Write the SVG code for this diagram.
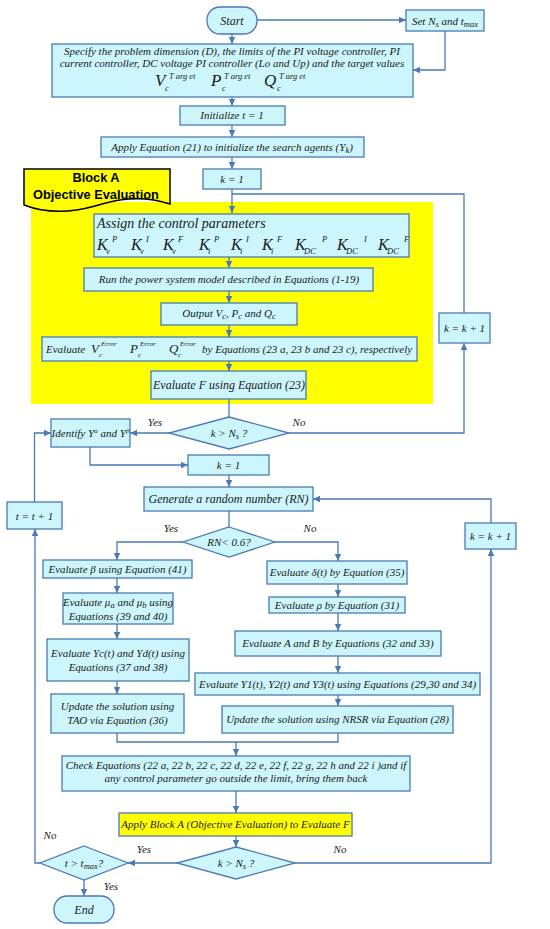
<svg xmlns="http://www.w3.org/2000/svg" width="550" height="929" viewBox="0 0 550 929">
<style>
.box{fill:#ccf6fc;stroke:#4a7ab5;stroke-width:1.3}
.ybox{fill:#ffff00;stroke:#4a7ab5;stroke-width:1.3}
.ln{fill:none;stroke:#4a7ab5;stroke-width:1.3}
.arr{marker-end:url(#ah)}
text{font-family:"Liberation Serif","Times New Roman",serif;font-style:italic;font-size:11px;fill:#1a1a1a}
.c{text-anchor:middle}
.f12{font-size:12px}
.f13{font-size:13px}
.f14{font-size:14px}
.big{font-size:17px}
.k{font-size:16px}
.s{font-size:8.5px}
.xs{font-size:7px}
.ban{font-family:"Liberation Sans",Arial,sans-serif;font-style:normal;font-weight:bold;font-size:12.8px;text-anchor:middle;fill:#000}
</style>
<defs>
<marker id="ah" markerWidth="8" markerHeight="8" refX="7" refY="4" orient="auto" markerUnits="userSpaceOnUse">
<path d="M0,0.8 L7,4 L0,7.2 Z" fill="#4a7ab5"/>
</marker>
</defs>
<rect width="550" height="929" fill="#ffffff"/>

<rect id="blockA-area" x="31" y="202" width="402" height="202" fill="#ffff00"/>

<g id="connectors">
<path class="ln arr" d="M232,34 V44"/>
<path class="ln arr" d="M257,20 H406"/>
<path class="ln arr" d="M445,31 V70 H413"/>
<path class="ln arr" d="M232,97 V106"/>
<path class="ln arr" d="M232,125 V137"/>
<path class="ln arr" d="M232,157 V169"/>
<path class="ln arr" d="M232,189 V213"/>
<path class="ln" d="M464,313 V194 H232"/>
<path class="ln arr" d="M229,257 V268"/>
<path class="ln arr" d="M229,291 V303"/>
<path class="ln arr" d="M229,325 V337"/>
<path class="ln arr" d="M229,361 V371"/>
<path class="ln" d="M229,399 V417"/>
<path class="ln arr" d="M289,433 H464 V343"/>
<path class="ln arr" d="M169,433 H130"/>
<path class="ln arr" d="M90,447 V465 H188"/>
<path class="ln arr" d="M229,475 V487"/>
<path class="ln" d="M229,511 V527"/>
<path class="ln arr" d="M183,542 H117 V560"/>
<path class="ln arr" d="M275,542 H338 V561"/>
<path class="ln arr" d="M117,578 V593"/>
<path class="ln arr" d="M117,624 V639"/>
<path class="ln arr" d="M117,681 V694"/>
<path class="ln arr" d="M338,584 V597"/>
<path class="ln arr" d="M338,613 V631"/>
<path class="ln arr" d="M338,656 V673"/>
<path class="ln arr" d="M338,695 V706"/>
<path class="ln" d="M117,733 V742 H338 V733"/>
<path class="ln arr" d="M236,742 V756"/>
<path class="ln arr" d="M236,791 V813"/>
<path class="ln arr" d="M236,836 V847"/>
<path class="ln arr" d="M177,863 H128"/>
<path class="ln arr" d="M295,863 H491 V549"/>
<path class="ln arr" d="M491,523 V499 H313"/>
<path class="ln arr" d="M40,863 H35 V529"/>
<path class="ln arr" d="M34.5,502 V433 H51"/>
<path class="ln arr" d="M84,880 V896"/>
</g>

<g id="labels">
<text class="c" x="155" y="426">Yes</text>
<text class="c" x="299" y="426">No</text>
<text class="c" x="171" y="532">Yes</text>
<text class="c" x="310" y="532">No</text>
<text class="c" x="144" y="853">Yes</text>
<text class="c" x="340" y="853">No</text>
<text class="c" x="50" y="839">No</text>
<text class="c" x="111" y="890">Yes</text>
</g>

<g id="start">
<rect class="box" x="207" y="7" width="50" height="27" rx="13"/>
<text class="c f12" x="232" y="24.5">Start</text>
</g>

<g id="set-ns">
<rect class="box" x="406" y="10" width="78" height="21"/>
<text class="c" x="445" y="24.5">Set N<tspan class="s" dy="2">s</tspan><tspan dy="-2"> and t</tspan><tspan class="s" dy="2">max</tspan></text>
</g>

<g id="specify">
<rect class="box" x="52" y="44" width="361" height="53"/>
<text class="c" x="232" y="55">Specify the problem dimension (D), the limits of the PI voltage controller, PI</text>
<text class="c" x="232" y="67">current controller, DC voltage PI controller (Lo and Up) and the target values</text>
<text><tspan class="big" x="155" y="86">V</tspan><tspan class="s" x="165" y="91">c</tspan><tspan class="s" x="169" y="79">T arg et</tspan><tspan class="big" x="211" y="86">P</tspan><tspan class="s" x="222" y="91">c</tspan><tspan class="s" x="224" y="79">T arg et</tspan><tspan class="big" x="264" y="86">Q</tspan><tspan class="s" x="277" y="91">c</tspan><tspan class="s" x="279" y="79">T arg et</tspan></text>
</g>

<g id="init-t">
<rect class="box" x="180" y="106" width="105" height="19"/>
<text class="c" x="232" y="119">Initialize t = 1</text>
</g>

<g id="apply-21">
<rect class="box" x="101" y="137" width="263" height="20"/>
<text class="c" x="232" y="150.5">Apply Equation (21) to initialize the search agents (Y<tspan class="s" dy="2">k</tspan><tspan dy="-2">)</tspan></text>
</g>

<g id="k1-a">
<rect class="box" x="203" y="169" width="58" height="20"/>
<text class="c" x="232" y="183">k = 1</text>
</g>

<g id="banner">
<path d="M24,169 H170 V204 C140,194 115,200 95,206 C70,213 45,213 24,205 Z" fill="#ffff00" stroke="#000" stroke-width="1.5"/>
<text class="ban" x="96" y="182">Block A</text>
<text class="ban" x="96" y="199">Objective Evaluation</text>
</g>

<g id="assign">
<rect class="box" x="94" y="214" width="315" height="43"/>
<text class="f14" x="97" y="228">Assign the control parameters</text>
<text><tspan class="k" x="97" y="250">K</tspan><tspan class="s" x="106" y="254">v</tspan><tspan class="s" x="112" y="242">P</tspan><tspan class="k" x="131" y="250">K</tspan><tspan class="s" x="140" y="254">v</tspan><tspan class="s" x="146" y="242">I</tspan><tspan class="k" x="163" y="250">K</tspan><tspan class="s" x="172" y="254">v</tspan><tspan class="s" x="178" y="242">F</tspan><tspan class="k" x="199" y="250">K</tspan><tspan class="s" x="208" y="254">i</tspan><tspan class="s" x="214" y="242">P</tspan><tspan class="k" x="231" y="250">K</tspan><tspan class="s" x="240" y="254">i</tspan><tspan class="s" x="246" y="242">I</tspan><tspan class="k" x="262" y="250">K</tspan><tspan class="s" x="271" y="254">i</tspan><tspan class="s" x="277" y="242">F</tspan><tspan class="k" x="295" y="250">K</tspan><tspan class="s" x="304" y="254">DC</tspan><tspan class="s" x="322" y="242">P</tspan><tspan class="k" x="337" y="250">K</tspan><tspan class="s" x="346" y="254">DC</tspan><tspan class="s" x="364" y="242">I</tspan><tspan class="k" x="378" y="250">K</tspan><tspan class="s" x="387" y="254">DC</tspan><tspan class="s" x="404" y="242">F</tspan></text>
</g>

<g id="run-model">
<rect class="box" x="84" y="268" width="289" height="23"/>
<text class="c" x="229" y="283">Run the power system model described in Equations (1-19)</text>
</g>

<g id="output">
<rect class="box" x="161" y="303" width="136" height="22"/>
<text class="c" x="229" y="317">Output V<tspan class="s" dy="2">c</tspan><tspan dy="-2">, P</tspan><tspan class="s" dy="2">c</tspan><tspan dy="-2"> and Q</tspan><tspan class="s" dy="2">c</tspan></text>
</g>

<g id="eval-error">
<rect class="box" x="42" y="337" width="375" height="24"/>
<text><tspan x="46" y="353">Evaluate</tspan><tspan class="f13" x="91" y="353">V</tspan><tspan class="xs" x="99" y="357">c</tspan><tspan class="xs" x="101" y="346">Error</tspan><tspan class="f13" x="130" y="353">P</tspan><tspan class="xs" x="138" y="357">c</tspan><tspan class="xs" x="140" y="346">Error</tspan><tspan class="f13" x="169" y="353">Q</tspan><tspan class="xs" x="178" y="357">c</tspan><tspan class="xs" x="180" y="346">Error</tspan><tspan x="202" y="353">by Equations (23 a, 23 b and 23 c), respectively</tspan></text>
</g>

<g id="eval-f">
<rect class="box" x="151" y="371" width="155" height="28"/>
<text class="c f12" x="229" y="389">Evaluate F using Equation (23)</text>
</g>

<g id="dec-k1">
<polygon class="box" points="229,417 289,433 229,449 169,433"/>
<text class="c" x="229" y="437">k &gt; N<tspan class="s" dy="2">s</tspan><tspan dy="-2"> ?</tspan></text>
</g>

<g id="k-inc-1">
<rect class="box" x="439" y="313" width="51" height="30"/>
<text class="c" x="464.5" y="332">k  = k  +  1</text>
</g>

<g id="identify">
<rect class="box" x="51" y="419" width="79" height="28"/>
<text class="c" x="90.5" y="437">Identify Υ<tspan class="xs" dy="-4">α</tspan><tspan dy="4"> and Υ</tspan><tspan class="xs" dy="-4">β</tspan></text>
</g>

<g id="k1-b">
<rect class="box" x="188" y="455" width="81" height="20"/>
<text class="c" x="228.5" y="469">k = 1</text>
</g>

<g id="generate">
<rect class="box" x="144" y="487" width="169" height="24"/>
<text class="c f12" x="228.5" y="503">Generate a random number (RN)</text>
</g>

<g id="t-inc">
<rect class="box" x="7" y="502" width="55" height="27"/>
<text class="c" x="34.5" y="519.5">t = t + 1</text>
</g>

<g id="k-inc-2">
<rect class="box" x="465" y="523" width="51" height="26"/>
<text class="c" x="490.5" y="540">k  = k  +  1</text>
</g>

<g id="dec-rn">
<polygon class="box" points="229,527 275,542 229,557 183,542"/>
<text class="c" x="229" y="546">RN&lt; 0.6?</text>
</g>

<g id="eval-beta">
<rect class="box" x="43" y="560" width="149" height="18"/>
<text class="c" x="117.5" y="573">Evaluate β using Equation (41)</text>
</g>

<g id="eval-mu">
<rect class="box" x="63" y="593" width="110" height="31"/>
<text class="c" x="118" y="606">Evaluate μ<tspan class="s" dy="2">a</tspan><tspan dy="-2"> and μ</tspan><tspan class="s" dy="2">b</tspan><tspan dy="-2"> using</tspan></text>
<text class="c" x="118" y="619.5">Equations (39 and 40)</text>
</g>

<g id="eval-yc">
<rect class="box" x="47" y="639" width="142" height="42"/>
<text class="c" x="118" y="657">Evaluate Yc(t) and Yd(t) using</text>
<text class="c" x="118" y="670.5">Equations (37 and 38)</text>
</g>

<g id="update-tao">
<rect class="box" x="51" y="694" width="133" height="39"/>
<text class="c" x="117.5" y="710">Update the solution using</text>
<text class="c" x="117.5" y="724">TAO via Equation (36)</text>
</g>

<g id="eval-delta">
<rect class="box" x="267" y="561" width="140" height="23"/>
<text class="c" x="337" y="576">Evaluate δ(t) by Equation (35)</text>
</g>

<g id="eval-rho">
<rect class="box" x="269" y="597" width="136" height="16"/>
<text class="c" x="337" y="609">Evaluate ρ by Equation (31)</text>
</g>

<g id="eval-ab">
<rect class="box" x="235" y="631" width="206" height="25"/>
<text class="c" x="338" y="647">Evaluate A and B by Equations (32 and 33)</text>
</g>

<g id="eval-y123">
<rect class="box" x="195" y="673" width="285" height="22"/>
<text class="c" x="337.5" y="688">Evaluate Y1(t), Y2(t) and Y3(t) using Equations (29,30 and 34)</text>
</g>

<g id="update-nrsr">
<rect class="box" x="222" y="706" width="231" height="27"/>
<text class="c" x="337.5" y="723">Update the solution using NRSR via Equation (28)</text>
</g>

<g id="check">
<rect class="box" x="62" y="756" width="348" height="35"/>
<text class="c" x="236" y="769">Check Equations (22 a, 22 b, 22 c, 22 d, 22 e, 22 f, 22  g, 22 h and 22 i )and if</text>
<text class="c" x="236" y="782">any control parameter go outside the limit, bring them back</text>
</g>

<g id="apply-blockA">
<rect class="ybox" x="119" y="813" width="233" height="23"/>
<text class="c" x="235.5" y="828">Apply Block A (Objective Evaluation) to Evaluate F</text>
</g>

<g id="dec-k2">
<polygon class="box" points="236,847 295,863 236,879 177,863"/>
<text class="c" x="236" y="867">k &gt; N<tspan class="s" dy="2">s</tspan><tspan dy="-2"> ?</tspan></text>
</g>

<g id="dec-t">
<polygon class="box" points="84,846 128,863 84,880 40,863"/>
<text class="c" x="84" y="867">t &gt; t<tspan class="s" dy="2">max</tspan><tspan dy="-2">?</tspan></text>
</g>

<g id="end">
<rect class="box" x="54" y="896" width="60" height="27" rx="13"/>
<text class="c f12" x="84" y="913.5">End</text>
</g>
</svg>
